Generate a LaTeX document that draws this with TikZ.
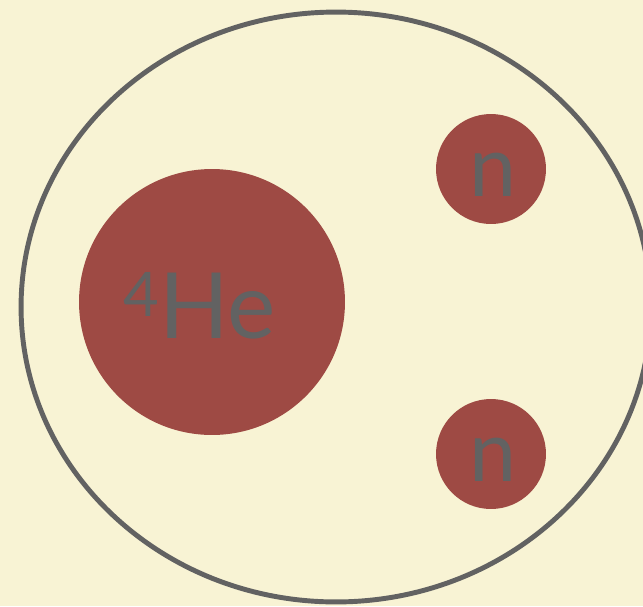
\documentclass[tikz,border=0pt]{standalone}
\usepackage{fontspec}
\setmainfont{Lato}
\definecolor{paper}{RGB}{248,243,212}
\definecolor{nucred}{RGB}{158,74,68}
\definecolor{inkgray}{RGB}{98,98,98}
\begin{document}
\begin{tikzpicture}[x=0.02cm, y=-0.02cm,
    nucleus/.style={circle, fill=nucred, draw=none, inner sep=0pt},
    lab/.style={text=inkgray, inner sep=0pt}]
  % page, 643 x 606
  \fill[paper] (0,0) rectangle (643,606);
  \useasboundingbox (0,0) rectangle (643,606);

  % system boundary
  \draw[inkgray, line width=2.8pt] (336,307) ellipse [x radius=6.3cm, y radius=5.9cm];

  \node[nucleus, minimum size=5.32cm] (he) at (212,302) {};
  \node[nucleus, minimum size=2.2cm]  (n1) at (491,169) {};
  \node[nucleus, minimum size=2.2cm]  (n2) at (491,454) {};

  \node[lab, font=\fontsize{52}{52}\selectfont] (helab) at ([xshift=-0.24cm, yshift=-0.07cm]he.center)
    {\raisebox{0.44cm}{\fontsize{35}{35}\selectfont 4}He};
  \node[lab, font=\fontsize{48}{48}\selectfont] (n1lab) at ([xshift=0.04cm, yshift=-0.11cm]n1.center) {n};
  \node[lab, font=\fontsize{48}{48}\selectfont] (n2lab) at ([xshift=0.04cm, yshift=-0.11cm]n2.center) {n};
\end{tikzpicture}
\end{document}
